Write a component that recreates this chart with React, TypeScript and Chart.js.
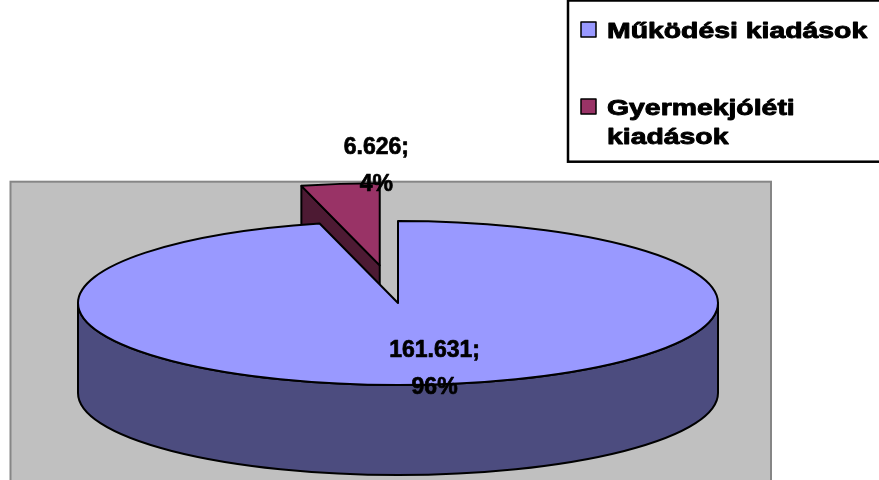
import React, { useEffect, useRef } from 'react';
import { Chart, registerables } from 'chart.js';

Chart.register(...registerables);

// ---- data ----
const categories = ['Működési kiadások', 'Gyermekjóléti kiadások'];
const values = [161631, 6626];
const topColors = ['#9999FF', '#993366'];
const sideColors = ['#4C4C7F', '#4D1A33'];
const explodeOffsets = [0, 148];

const FONT = "'Liberation Sans', Arial, Helvetica, sans-serif";

function fmtHu(v: number): string {
  return String(v).replace(/\B(?=(\d{3})+(?!\d))/g, '.');
}

function boldText(ctx: CanvasRenderingContext2D, t: string, x: number, y: number, w: number) {
  ctx.fillText(t, x, y);
  ctx.lineWidth = w;
  ctx.strokeStyle = '#000';
  ctx.strokeText(t, x, y);
}

const pie3dPlugin = {
  id: 'pie3d',
  beforeDatasetsDraw(chart: any, _args: any, opts: any) {
    const ctx: CanvasRenderingContext2D = chart.ctx;
    const tilt: number = opts.tilt;
    const depth: number = opts.depth;

    // plot area background
    ctx.save();
    ctx.fillStyle = '#C0C0C0';
    ctx.fillRect(10.5, 181.7, 760.5, 320);
    ctx.strokeStyle = '#868686';
    ctx.lineWidth = 2;
    ctx.strokeRect(10.5, 181.7, 760.5, 320);
    ctx.restore();

    const meta = chart.getDatasetMeta(0);
    const data: number[] = chart.data.datasets[0].data;
    const total = data.reduce((a: number, b: number) => a + b, 0);

    const items = meta.data.map((el: any, i: number) => {
      const p = el.getProps(['x', 'y', 'startAngle', 'endAngle', 'outerRadius'], true);
      const mid = (p.startAngle + p.endAngle) / 2;
      const off = el.options.offset || 0;
      const rx = p.outerRadius;
      const ry = rx * tilt;
      return {
        i,
        a1: p.startAngle,
        a2: p.endAngle,
        mid,
        rx,
        ry,
        cx: p.x + Math.cos(mid) * off,
        cy: p.y + Math.sin(mid) * off * tilt,
      };
    });

    const order = [...items].sort((a, b) => Math.sin(a.mid) - Math.sin(b.mid));

    ctx.save();
    ctx.lineWidth = 2;
    ctx.strokeStyle = '#000';
    ctx.lineJoin = 'round';
    for (const s of order) {
      const { cx, cy, rx, ry, a1, a2, i } = s;
      const side = opts.sideColors[i];
      const top = chart.data.datasets[0].backgroundColor[i];
      const face = (a: number) => {
        ctx.beginPath();
        ctx.moveTo(cx, cy);
        ctx.lineTo(cx + rx * Math.cos(a), cy + ry * Math.sin(a));
        ctx.lineTo(cx + rx * Math.cos(a), cy + ry * Math.sin(a) + depth);
        ctx.lineTo(cx, cy + depth);
        ctx.closePath();
        ctx.fillStyle = side;
        ctx.fill();
        ctx.stroke();
      };
      if (Math.cos(a1) < -1e-6) face(a1);
      if (Math.cos(a2) > 1e-6) face(a2);
      for (let k = -1; k <= 2; k++) {
        const lo = Math.max(a1, 2 * Math.PI * k);
        const hi = Math.min(a2, 2 * Math.PI * k + Math.PI);
        if (hi > lo) {
          ctx.beginPath();
          ctx.ellipse(cx, cy, rx, ry, 0, lo, hi);
          ctx.lineTo(cx + rx * Math.cos(hi), cy + depth + ry * Math.sin(hi));
          ctx.ellipse(cx, cy + depth, rx, ry, 0, hi, lo, true);
          ctx.closePath();
          ctx.fillStyle = side;
          ctx.fill();
          ctx.stroke();
        }
      }
      ctx.beginPath();
      ctx.moveTo(cx, cy);
      ctx.ellipse(cx, cy, rx, ry, 0, a1, a2);
      ctx.closePath();
      ctx.fillStyle = top;
      ctx.fill();
      ctx.stroke();
    }
    ctx.restore();

    // data labels
    ctx.save();
    ctx.fillStyle = '#000';
    ctx.font = `bold 23px ${FONT}`;
    ctx.textAlign = 'center';
    ctx.textBaseline = 'alphabetic';
    ctx.lineJoin = 'round';
    for (const s of items) {
      const f = opts.labelRadius[s.i];
      const sh = opts.labelShift[s.i];
      const lx = s.cx + Math.cos(s.mid) * s.rx * f + sh[0];
      const ly = s.cy + Math.sin(s.mid) * s.ry * f + sh[1];
      const v = data[s.i];
      const pct = Math.round((v / total) * 100);
      boldText(ctx, fmtHu(v) + ';', lx, ly - 10, 0.7);
      boldText(ctx, pct + '%', lx, ly + 27, 0.7);
    }
    ctx.restore();

    // legend
    ctx.save();
    ctx.strokeStyle = '#000';
    ctx.lineWidth = 2.5;
    ctx.strokeRect(568, 0.5, 330, 161.2);
    ctx.font = `bold 22px ${FONT}`;
    ctx.textBaseline = 'alphabetic';
    ctx.textAlign = 'left';
    ctx.lineJoin = 'round';
    const stretch = 1.29;
    const maxW = 268;
    const baselines = [38, 115];
    chart.data.labels.forEach((label: string, i: number) => {
      const words = label.split(' ');
      const lines: string[] = [];
      let cur = '';
      for (const w of words) {
        const t = cur ? cur + ' ' + w : w;
        if (ctx.measureText(t).width * stretch > maxW && cur) {
          lines.push(cur);
          cur = w;
        } else cur = t;
      }
      if (cur) lines.push(cur);
      const b = baselines[i];
      ctx.fillStyle = chart.data.datasets[0].backgroundColor[i];
      ctx.fillRect(581, b - 16, 15, 15);
      ctx.lineWidth = 1.5;
      ctx.strokeStyle = '#000';
      ctx.strokeRect(581, b - 16, 15, 15);
      ctx.fillStyle = '#000';
      lines.forEach((ln, j) => {
        ctx.save();
        ctx.translate(607, b + j * 29);
        ctx.scale(stretch, 1);
        boldText(ctx, ln, 0, 0, 0.9);
        ctx.restore();
      });
    });
    ctx.restore();

    return false;
  },
};

export default function App() {
  const ref = useRef<HTMLCanvasElement | null>(null);
  useEffect(() => {
    document.body.style.margin = '0';
    if (!ref.current) return;
    const chart = new Chart(ref.current, {
      type: 'pie',
      data: {
        labels: categories,
        datasets: [
          {
            data: values,
            backgroundColor: topColors,
            borderColor: '#000',
            borderWidth: 2,
            offset: explodeOffsets,
            radius: 320,
          } as any,
        ],
      },
      options: {
        responsive: false,
        animation: false,
        devicePixelRatio: 1,
        layout: { padding: { left: 78, right: 161, top: 200, bottom: 74 } },
        plugins: {
          legend: { display: false },
          tooltip: { enabled: false },
          pie3d: {
            tilt: 82 / 320,
            depth: 90,
            sideColors,
            labelRadius: [0.8, 1.25],
            labelShift: [
              [5, -1],
              [46, 0],
            ],
          },
        } as any,
      },
      plugins: [pie3dPlugin],
    });
    return () => chart.destroy();
  }, []);
  return <canvas ref={ref} width={879} height={480} style={{ display: 'block' }} />;
}
